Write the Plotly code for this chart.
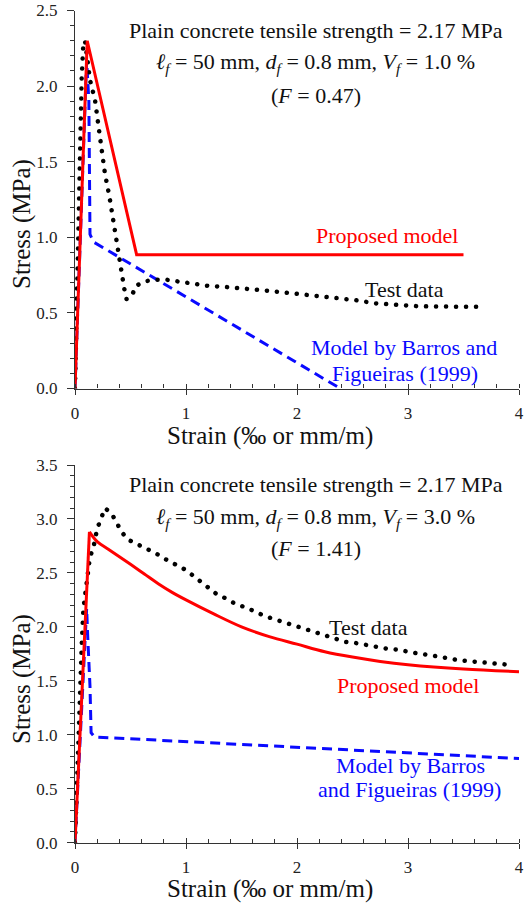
import plotly.graph_objects as go

# ---------------- data: Vf = 1.0 % (upper panel) ----------------
test1_strain = [0, 0.015, 0.025, 0.035, 0.045, 0.06, 0.075, 0.09, 0.135, 0.18, 0.22, 0.27,
                0.31, 0.354, 0.381, 0.41, 0.444, 0.465, 0.516, 0.55, 0.64, 0.72, 0.82, 1.0,
                1.19, 1.38, 1.57, 1.76, 1.95, 2.14, 2.33, 2.52, 2.71, 2.9, 3.09, 3.29, 3.48, 3.67]
test1_stress = [0, 0.5, 1.0, 1.4, 1.8, 2.05, 2.28, 2.30, 2.04, 1.91, 1.69, 1.42,
                1.27, 1.07, 0.93, 0.79, 0.66, 0.59, 0.62, 0.68, 0.71, 0.72, 0.72, 0.70,
                0.68, 0.67, 0.66, 0.645, 0.63, 0.616, 0.60, 0.585, 0.563, 0.55, 0.544, 0.542, 0.54, 0.54]

prop1_strain = [0, 0.11, 0.555, 3.5]
prop1_stress = [0, 2.30, 0.885, 0.885]

barros1_strain = [0, 0.105, 0.125, 0.135, 0.165, 2.39]
barros1_stress = [0, 2.17, 1.90, 1.02, 0.97, 0.0]

# ---------------- data: Vf = 3.0 % (lower panel) ----------------
test2_strain = [0, 0.012, 0.024, 0.045, 0.06, 0.075, 0.1, 0.12, 0.135, 0.165, 0.2, 0.27,
                0.33, 0.42, 0.475, 0.56, 0.646, 0.73, 0.81, 0.89, 0.976, 1.057, 1.135, 1.2,
                1.28, 1.367, 1.45, 1.54, 1.62, 1.71, 1.80, 1.89, 1.98, 2.07, 2.16, 2.25,
                2.34, 2.44, 2.53, 2.62, 2.71, 2.80, 2.90, 2.99, 3.08, 3.18, 3.27, 3.36,
                3.46, 3.55, 3.65, 3.74, 3.84, 3.95]
test2_stress = [0, 0.4, 0.9, 1.41, 1.82, 2.16, 2.41, 2.53, 2.65, 2.73, 2.91, 3.10,
                3.05, 2.88, 2.81, 2.77, 2.73, 2.68, 2.63, 2.59, 2.54, 2.48, 2.42, 2.36,
                2.30, 2.26, 2.21, 2.18, 2.14, 2.10, 2.07, 2.04, 2.01, 1.98, 1.95, 1.92,
                1.89, 1.86, 1.85, 1.83, 1.82, 1.80, 1.79, 1.77, 1.755, 1.74, 1.72, 1.71,
                1.69, 1.68, 1.67, 1.66, 1.65, 1.645]

# proposed model: linear pre-peak branch, smooth post-peak softening branch
prop2_rise_strain = [0, 0.13]
prop2_rise_stress = [0, 2.88]
prop2_soft_strain = [0.13, 0.2, 0.3, 0.4, 0.5, 0.625, 0.75, 0.875, 1.0, 1.25, 1.5, 1.75,
                     2.0, 2.25, 2.5, 2.75, 3.0, 3.5, 4.0]
prop2_soft_stress = [2.88, 2.79, 2.72, 2.65, 2.58, 2.49, 2.40, 2.32, 2.25, 2.12, 2.00, 1.91,
                     1.84, 1.77, 1.72, 1.68, 1.65, 1.61, 1.585]

barros2_strain = [0, 0.105, 0.115, 0.135, 0.145, 0.175, 4.0]
barros2_stress = [0, 2.17, 1.90, 1.45, 1.02, 0.98, 0.78]

x_ticks = [0, 1, 2, 3, 4]

SERIF = "Liberation Serif, Times New Roman, serif"
RED = "#ff0000"
BLUE = "#0a0aff"
AXIS_COLOR = "#333333"

fig = go.Figure()


def curve(xa, ya, x, y, color, width, dash=None, shape="linear"):
    line = dict(color=color, width=width, shape=shape)
    if dash:
        line["dash"] = dash
    fig.add_trace(go.Scatter(x=x, y=y, mode="lines", xaxis=xa, yaxis=ya, line=line,
                             showlegend=False, hoverinfo="skip"))


# upper panel
curve("x", "y", barros1_strain, barros1_stress, BLUE, 3, "10px,6px")
curve("x", "y", test1_strain, test1_stress, "#000000", 4.5, "4px,6px")
curve("x", "y", prop1_strain, prop1_stress, RED, 3)

# lower panel
curve("x2", "y2", barros2_strain, barros2_stress, BLUE, 3, "10px,6px")
curve("x2", "y2", test2_strain, test2_stress, "#000000", 4.5, "4px,6px")
curve("x2", "y2", prop2_rise_strain, prop2_rise_stress, RED, 3)
curve("x2", "y2", prop2_soft_strain, prop2_soft_stress, RED, 3, shape="spline")

# empty traces so the overlay axes (inner halves of the major x ticks) are drawn
fig.add_trace(go.Scatter(x=[], y=[], xaxis="x3", yaxis="y", showlegend=False))
fig.add_trace(go.Scatter(x=[], y=[], xaxis="x4", yaxis="y2", showlegend=False))

W, H = 525, 908
x_dom = [75 / W, 519 / W]
top_dom = [1 - 388.5 / H, 1 - 10.5 / H]
bot_dom = [1 - 842.7 / H, 1 - 465 / H]

tickfont = dict(family=SERIF, size=17, color="#222222")


def xaxis_main(anchor):
    return dict(domain=x_dom, anchor=anchor, range=[0, 4], tickvals=x_ticks,
                ticks="outside", ticklen=5, tickwidth=1.3, tickcolor=AXIS_COLOR,
                showline=True, linecolor=AXIS_COLOR, linewidth=1.4,
                showgrid=False, zeroline=False, tickfont=tickfont,
                ticklabelstandoff=4, automargin=False,
                minor=dict(dtick=0.2, ticks="inside", ticklen=4, tickwidth=1.1,
                           tickcolor=AXIS_COLOR, showgrid=False))


def xaxis_overlay(over, anchor):
    return dict(domain=x_dom, anchor=anchor, overlaying=over, range=[0, 4],
                tickvals=x_ticks, ticks="inside", ticklen=5, tickwidth=1.3,
                tickcolor=AXIS_COLOR, showticklabels=False, showline=False,
                showgrid=False, zeroline=False, automargin=False)


def yaxis_main(dom, rng, anchor):
    return dict(domain=dom, anchor=anchor, range=rng, dtick=0.5, tickformat=".1f",
                ticks="outside", ticklen=7, tickwidth=1.3, tickcolor=AXIS_COLOR,
                showline=True, linecolor=AXIS_COLOR, linewidth=1.4,
                showgrid=False, zeroline=False, tickfont=tickfont,
                ticklabelstandoff=6, automargin=False,
                minor=dict(dtick=0.1, ticks="outside", ticklen=4, tickwidth=1.1,
                           tickcolor=AXIS_COLOR, showgrid=False))


fig.update_layout(
    width=W, height=H,
    margin=dict(l=0, r=0, t=0, b=0, pad=0, autoexpand=False),
    paper_bgcolor="white", plot_bgcolor="white",
    showlegend=False,
    xaxis=xaxis_main("y"),
    yaxis=yaxis_main(top_dom, [0, 2.5], "x"),
    xaxis2=xaxis_main("y2"),
    yaxis2=yaxis_main(bot_dom, [0, 3.5], "x2"),
    xaxis3=xaxis_overlay("x", "y"),
    xaxis4=xaxis_overlay("x2", "y2"),
)

ann = []
txt = dict(family=SERIF, size=22, color="#111111")


def note(text, x, y, xref, yref, font, **kw):
    ann.append(dict(text=text, x=x, y=y, xref=xref, yref=yref, showarrow=False,
                    xanchor="center", yanchor="middle", font=font, **kw))


LF = "<i>ℓ</i><sub><i>f</i></sub>"
DF = "<i>d</i><sub><i>f</i></sub>"
VF = "<i>V</i><sub><i>f</i></sub>"

# upper panel texts
note("Plain concrete tensile strength = 2.17 MPa", 2.17, 2.37, "x", "y", txt)
note(f"{LF} = 50 mm, {DF} = 0.8 mm, {VF} = 1.0 %", 2.17, 2.15, "x", "y", txt)
note("(<i>F</i> = 0.47)", 2.17, 1.94, "x", "y", txt)
note("Proposed model", 2.815, 1.015, "x", "y", dict(txt, color=RED))
note("Test data", 2.97, 0.655, "x", "y", txt)
note("Model by Barros and", 2.96, 0.27, "x", "y", dict(txt, color=BLUE))
note("Figueiras (1999)", 2.97, 0.10, "x", "y", dict(txt, color=BLUE))

# lower panel texts
note("Plain concrete tensile strength = 2.17 MPa", 2.17, 3.315, "x2", "y2", txt)
note(f"{LF} = 50 mm, {DF} = 0.8 mm, {VF} = 3.0 %", 2.17, 3.01, "x2", "y2", txt)
note("(<i>F</i> = 1.41)", 2.17, 2.73, "x2", "y2", txt)
note("Test data", 2.64, 1.99, "x2", "y2", txt)
note("Proposed model", 3.0, 1.46, "x2", "y2", dict(txt, color=RED))
note("Model by Barros", 3.02, 0.72, "x2", "y2", dict(txt, color=BLUE))
note("and Figueiras (1999)", 3.01, 0.49, "x2", "y2", dict(txt, color=BLUE))

# axis titles
title_font = dict(family=SERIF, size=25, color="#111111")
note("Stress (MPa)", 22 / W, 1 - 224 / H, "paper", "paper", title_font, textangle=-90)
note("Stress (MPa)", 22 / W, 1 - 679 / H, "paper", "paper", title_font, textangle=-90)
note("Strain (‰ or mm/m)", 269.5 / W, 1 - 436 / H, "paper", "paper", title_font)
note("Strain (‰ or mm/m)", 269.5 / W, 1 - 889 / H, "paper", "paper", title_font)

fig.update_layout(annotations=ann)

# turn the dash pattern of the test-data curves into round dots
round_dots = """
var gd = document.getElementById('{plot_id}');
function roundDots() {
  gd.querySelectorAll('.scatterlayer .js-line').forEach(function (p) {
    var w = parseFloat(p.style.strokeWidth || p.getAttribute('stroke-width') || 0);
    if (w > 4) {
      p.style.strokeLinecap = 'round';
      p.style.strokeDasharray = '0.1px, 9.9px';
    }
  });
}
roundDots();
gd.on('plotly_afterplot', roundDots);
"""

fig.write_html("out.html", post_script=round_dots)
